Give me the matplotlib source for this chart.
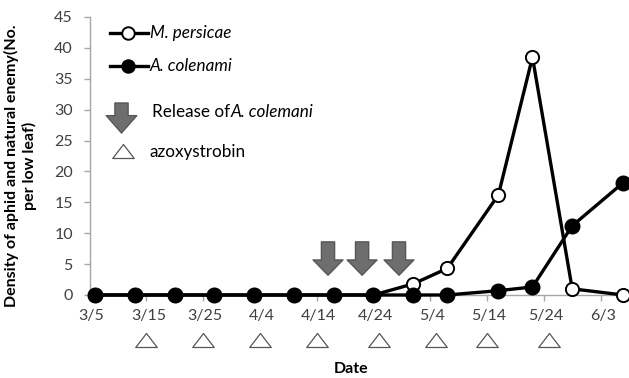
import matplotlib
matplotlib.use("Agg")
import matplotlib.pyplot as plt
import matplotlib.transforms as mtransforms
from matplotlib.patches import FancyArrowPatch
from matplotlib.path import Path
from matplotlib.lines import Line2D

plt.rcParams["font.family"] = ["Lato", "DejaVu Sans"]

# Sampling days counted from 3/5
sample_days = [1, 8, 15, 22, 29, 36, 43, 50, 57, 63, 72, 78, 85, 94]
m_persicae = [0, 0, 0, 0, 0, 0, 0, 0, 1.8, 4.3, 16.2, 38.5, 1.0, 0.0]
a_colenami = [0, 0, 0, 0, 0, 0, 0, 0, 0, 0, 0.7, 1.3, 11.2, 18.2]

# Release of parasitoids and fungicide applications (days from 3/5)
release_days = [42, 48, 54.5]
azoxystrobin_days = [10, 20, 30, 40, 51, 61, 70, 81]

tick_days = [0, 10, 20, 30, 40, 50, 60, 70, 80, 90]
tick_labels = ["3/5", "3/15", "3/25", "4/4", "4/14", "4/24", "5/4", "5/14", "5/24", "6/3"]
y_ticks = [0, 5, 10, 15, 20, 25, 30, 35, 40, 45]

W, H = 629, 378
fig = plt.figure(figsize=(W / 100, H / 100), dpi=100)
ax = fig.add_axes([89.5 / W, 1 - 295 / H, 1 - 89.5 / W, (295 - 17) / H])

tick_col = "#404040"
spine_col = "#a6a6a6"

ax.plot(sample_days, m_persicae, color="black", lw=2.4, marker="o", ms=9.5,
        mfc="white", mec="black", mew=1.4, zorder=3, clip_on=False)
ax.plot(sample_days, a_colenami, color="black", lw=2.4, marker="o", ms=10.5,
        mfc="black", mec="black", zorder=4, clip_on=False)

ax.set_xlim(0, 95.0)
ax.set_ylim(0, 45)
ax.set_xticks(tick_days)
ax.set_xticklabels(tick_labels)
ax.set_yticks(y_ticks)
for s in ["top", "right"]:
    ax.spines[s].set_visible(False)
for s in ["left", "bottom"]:
    ax.spines[s].set_color(spine_col)
    ax.spines[s].set_linewidth(1.0)
ax.tick_params(axis="both", colors=spine_col, labelcolor=tick_col, labelsize=11.5,
               length=4, width=1.0)
ax.tick_params(axis="x", pad=6)
ax.tick_params(axis="y", pad=8)
# nudge the date labels slightly to the right
for lab in ax.get_xticklabels():
    lab.set_transform(lab.get_transform() +
                      mtransforms.ScaledTranslation(2 / 100, 0, fig.dpi_scale_trans))

# Release arrows
arrow_style = "simple,head_length=1.1,head_width=2.15,tail_width=0.95"
for d in release_days:
    ax.annotate("", xy=(d, 3.2), xytext=(d, 8.6),
                arrowprops=dict(arrowstyle=arrow_style, mutation_scale=10,
                                fc="#6e6e6e", ec="#575757", lw=1.0,
                                shrinkA=0, shrinkB=0), zorder=2)

# Flat triangle marker for fungicide applications
tri = Path([(-1, -0.65), (1, -0.65), (0, 0.65), (-1, -0.65)],
           [Path.MOVETO, Path.LINETO, Path.LINETO, Path.CLOSEPOLY])
ax.plot(azoxystrobin_days, [-7.3] * len(azoxystrobin_days), ls="none",
        marker=tri, ms=15.5, mfc="white", mec="#555555", mew=0.9, clip_on=False)

# Legend block
def px(x, y):
    return x / W, 1 - y / H

leg_fs = 12.3
leg_entries = [("M. persicae", "white", 33), ("A. colenami", "black", 66)]
for name, fc, y in leg_entries:
    fig.add_artist(Line2D([110 / W, 148 / W], [1 - y / H] * 2, color="black", lw=2.4,
                          transform=fig.transFigure))
    fig.add_artist(Line2D([128 / W], [1 - y / H], marker="o", ms=9, mfc=fc,
                          mec="black", mew=1.4, transform=fig.transFigure))
    fig.text(*px(150, y), name, style="italic", fontsize=leg_fs, color="black",
             va="center", ha="left")

fig.patches.append(FancyArrowPatch(
    px(121.5, 103), px(121.5, 133), transform=fig.transFigure,
    arrowstyle="simple,head_length=1.25,head_width=2.2,tail_width=0.95",
    mutation_scale=10, fc="#6e6e6e", ec="#575757", lw=1.0, shrinkA=0, shrinkB=0))
t_rel = fig.text(*px(152, 112), "Release of", fontsize=leg_fs, color="black",
                 va="center", ha="left")
renderer = fig.canvas.get_renderer()
bb = t_rel.get_window_extent(renderer)
fig.text(bb.x1 / W, 1 - 112 / H, "A. colemani", style="italic", fontsize=leg_fs,
         color="black", va="center", ha="left")

fig.add_artist(Line2D([122.5 / W], [1 - 151 / H], marker=tri, ms=15.5, mfc="white",
                      mec="#555555", mew=0.9, transform=fig.transFigure))
fig.text(*px(150, 152), "azoxystrobin", fontsize=leg_fs, color="black",
         va="center", ha="left")

fig.text(*px(20.5, 166), "Density of aphid and natural enemy(No.\nper low leaf)",
         rotation=90, fontsize=11.5, fontweight="bold", ha="center", va="center",
         multialignment="center", linespacing=1.25)
fig.text(*px(351, 369), "Date", fontsize=11.5, fontweight="bold", ha="center",
         va="center")

fig.savefig("out.png", dpi=100)
